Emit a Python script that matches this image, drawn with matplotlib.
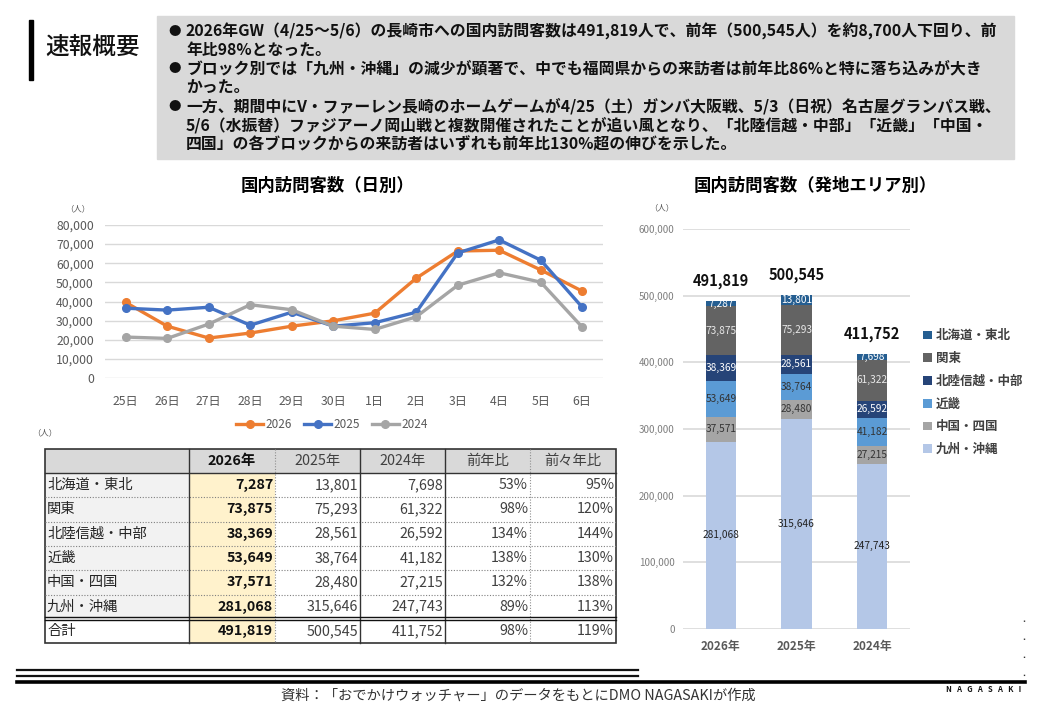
import numpy as np
import matplotlib
matplotlib.use('Agg')
import matplotlib.pyplot as plt
from matplotlib.patches import Rectangle

plt.rcParams['font.family'] = ['Noto Sans CJK JP', 'DejaVu Sans']

W, H = 1040, 720

# ---- data ----
days = ['25日', '26日', '27日', '28日', '29日', '30日', '1日', '2日', '3日', '4日', '5日', '6日']
visitors_2026 = [39500, 27100, 20900, 23500, 27100, 29900, 33900, 52200, 66400, 66800, 56500, 45400]
visitors_2025 = [36500, 35500, 37000, 27600, 34400, 27100, 28900, 34400, 65400, 72200, 61600, 37000]
visitors_2024 = [21400, 20700, 28200, 38300, 35700, 27100, 25400, 32000, 48500, 55000, 50100, 26600]

regions = ['北海道・東北', '関東', '北陸信越・中部', '近畿', '中国・四国', '九州・沖縄']
area_2026 = [7287, 73875, 38369, 53649, 37571, 281068]
area_2025 = [13801, 75293, 28561, 38764, 28480, 315646]
area_2024 = [7698, 61322, 26592, 41182, 27215, 247743]
ratio_prev = [53, 98, 134, 138, 132, 89]
ratio_prev2 = [95, 120, 144, 130, 138, 113]
ratio_total = [98, 119]

years = ['2026年', '2025年', '2024年']
area_colors = ['#255e91', '#636363', '#264478', '#5b9bd5', '#a5a5a5', '#b4c7e7']
label_colors = ['white', '#e8e8e8', 'white', '#333333', '#333333', '#222222']

summary_lines = [
    (True, '2026年GW（4/25～5/6）の長崎市への国内訪問客数は491,819人で、前年（500,545人）を約8,700人下回り、前'),
    (False, '年比98%となった。'),
    (True, 'ブロック別では「九州・沖縄」の減少が顕著で、中でも福岡県からの来訪者は前年比86%と特に落ち込みが大き'),
    (False, 'かった。'),
    (True, '一方、期間中にV・ファーレン長崎のホームゲームが4/25（土）ガンバ大阪戦、5/3（日祝）名古屋グランパス戦、'),
    (False, '5/6（水振替）ファジアーノ岡山戦と複数開催されたことが追い風となり、「北陸信越・中部」「近畿」「中国・'),
    (False, '四国」の各ブロックからの来訪者はいずれも前年比130%超の伸びを示した。'),
]


def box(l, t, r, b):
    return [l / W, 1 - b / H, (r - l) / W, (b - t) / H]


fig = plt.figure(figsize=(W / 100, H / 100), dpi=100)

# overlay in pixel coords
ax0 = fig.add_axes([0, 0, 1, 1])
ax0.set_xlim(0, W)
ax0.set_ylim(H, 0)
ax0.axis('off')

# header
ax0.add_patch(Rectangle((29, 20), 4, 60, color='black'))
ax0.text(45, 47, '速報概要', fontsize=17, fontweight='medium', va='center', ha='left', color='#111111')

ax0.add_patch(Rectangle((157, 16), 857, 143, color='#d9d9d9'))
for i, (bullet, line) in enumerate(summary_lines):
    y = 31 + i * 18.8
    if bullet:
        ax0.text(168, y, '●', fontsize=9, va='center', ha='left', color='#111111')
    ax0.text(186, y, line, fontsize=11.4, fontweight='bold', va='center', ha='left', color='#111111')

# ---- line chart ----
ax1 = fig.add_axes(box(105, 225, 603, 378))
x = np.arange(len(days))
ax1.plot(x, visitors_2026, color='#ed7d31', lw=2.4, marker='o', ms=5.5, label='2026')
ax1.plot(x, visitors_2025, color='#4472c4', lw=2.4, marker='o', ms=5.5, label='2025')
ax1.plot(x, visitors_2024, color='#a5a5a5', lw=2.4, marker='o', ms=5.5, label='2024')
ax1.set_xlim(-0.5, len(days) - 0.5)
ax1.set_ylim(0, 80000)
ax1.set_yticks(np.arange(0, 80001, 10000))
ax1.set_yticklabels([f'{v:,}' for v in range(0, 80001, 10000)])
ax1.set_xticks(x)
ax1.set_xticklabels(days)
ax1.grid(axis='y', color='#d9d9d9', lw=1)
ax1.set_axisbelow(True)
for s in ax1.spines.values():
    s.set_visible(False)
ax1.tick_params(length=0, labelsize=8.8, colors='#595959')
ax1.tick_params(axis='x', pad=12)
ax1.tick_params(axis='y', pad=8)
ax1.legend(loc='center', bbox_to_anchor=(332 / W, 1 - 425 / H), bbox_transform=fig.transFigure,
           ncol=3, frameon=False, fontsize=8.5, labelcolor='#595959', handlelength=2.3,
           columnspacing=1.0, handletextpad=0.2)
fig.text(328 / W, 1 - 186 / H, '国内訪問客数（日別）', fontsize=12.5, fontweight='bold', ha='center', va='center')
ax0.text(78, 209, '（人）', fontsize=6, color='#595959', ha='center', va='center')

# ---- table ----
ax0.text(45, 433, '（人）', fontsize=6, color='#595959', ha='center', va='center')
col_x = [45, 189, 275, 360, 445, 530, 616]
top = 449
head_h = 24
row_h = 24.3
n = len(regions)
rows_bottom = top + head_h + n * row_h
bottom = rows_bottom + 24.5

ax0.add_patch(Rectangle((col_x[0], top), col_x[-1] - col_x[0], head_h, color='#d9d9d9', lw=0))
ax0.add_patch(Rectangle((col_x[0], top + head_h), col_x[1] - col_x[0], n * row_h, color='#f2f2f2', lw=0))
ax0.add_patch(Rectangle((col_x[1], top + head_h), col_x[2] - col_x[1], bottom - top - head_h,
                        color='#fff2cc', lw=0))

headers = ['', '2026年', '2025年', '2024年', '前年比', '前々年比']
for j, h in enumerate(headers):
    if not h:
        continue
    cx = (col_x[j] + col_x[j + 1]) / 2
    ax0.text(cx, top + head_h / 2, h, fontsize=10.3, ha='center', va='center',
             fontweight='bold' if j == 1 else 'normal', color='#111111' if j == 1 else '#404040')

table_rows = []
for i in range(n):
    table_rows.append([regions[i], f'{area_2026[i]:,}', f'{area_2025[i]:,}', f'{area_2024[i]:,}',
                       f'{ratio_prev[i]}%', f'{ratio_prev2[i]}%'])
table_rows.append(['合計', f'{sum(area_2026):,}', f'{sum(area_2025):,}', f'{sum(area_2024):,}',
                   f'{ratio_total[0]}%', f'{ratio_total[1]}%'])

for i, row in enumerate(table_rows):
    if i < n:
        cy = top + head_h + (i + 0.5) * row_h
    else:
        cy = rows_bottom + 12.5
    for j, val in enumerate(row):
        if j == 0:
            ax0.text(col_x[0] + 2, cy, val, fontsize=10.3, ha='left', va='center', color='#262626')
        else:
            ax0.text(col_x[j + 1] - 2, cy, val, fontsize=10.3, ha='right', va='center',
                     fontweight='bold' if j == 1 else 'normal',
                     color='#111111' if j == 1 else '#404040')

# grid lines
for i in range(1, n):
    yy = top + head_h + i * row_h
    ax0.plot([col_x[0], col_x[-1]], [yy, yy], color='#808080', lw=0.8, ls=(0, (1, 1.5)))
for j in [2, 5]:
    ax0.plot([col_x[j], col_x[j]], [top, bottom], color='#909090', lw=0.8, ls=(0, (1, 1.5)))
for j in [1, 3, 4]:
    ax0.plot([col_x[j], col_x[j]], [top, bottom], color='#333333', lw=1)
ax0.plot([col_x[0], col_x[-1]], [top + head_h, top + head_h], color='#333333', lw=1)
ax0.plot([col_x[0], col_x[-1]], [rows_bottom - 1.5, rows_bottom - 1.5], color='#111111', lw=1)
ax0.plot([col_x[0], col_x[-1]], [rows_bottom + 1.5, rows_bottom + 1.5], color='#111111', lw=1)
ax0.add_patch(Rectangle((col_x[0], top), col_x[-1] - col_x[0], bottom - top, fill=False,
                        ec='#333333', lw=1.2))

# ---- stacked bar chart ----
ax2 = fig.add_axes(box(683, 229, 910, 629))
xb = np.arange(len(years))
stack = [[area_2026[k], area_2025[k], area_2024[k]] for k in range(n)]
base = np.zeros(len(years))
handles = []
for k in range(n - 1, -1, -1):
    vals = np.array(stack[k])
    bars = ax2.bar(xb, vals, width=0.4, bottom=base, color=area_colors[k], label=regions[k])
    ax2.bar_label(bars, labels=[f'{v:,}' for v in vals], label_type='center', fontsize=7.3,
                  color=label_colors[k])
    handles.append(bars)
    base = base + vals
for i, t in enumerate(base):
    ax2.text(xb[i], t + 30000, f'{int(t):,}', ha='center', va='center', fontsize=10.5, fontweight='bold',
             color='#111111')
ax2.set_xlim(-0.5, 2.5)
ax2.set_ylim(0, 600000)
ax2.set_yticks(np.arange(0, 600001, 100000))
ax2.set_yticklabels([f'{v:,}' for v in range(0, 600001, 100000)])
ax2.set_xticks(xb)
ax2.set_xticklabels(years, fontweight='bold')
ax2.grid(axis='y', color='#d9d9d9', lw=1.2)
ax2.set_axisbelow(True)
for s in ax2.spines.values():
    s.set_visible(False)
ax2.tick_params(axis='y', length=0, labelsize=7, colors='#7f7f7f', pad=6)
ax2.tick_params(axis='x', length=0, labelsize=8.5, colors='#595959', pad=8)
ax2.legend(handles[::-1], regions, loc='upper left', bbox_to_anchor=(912 / W, 1 - 318 / H),
           bbox_transform=fig.transFigure, frameon=False,
           prop={'weight': 'bold', 'size': 9}, labelcolor='#404040',
           handlelength=0.7, handleheight=0.7, handletextpad=0.3, labelspacing=0.78)
fig.text(815 / W, 1 - 186 / H, '国内訪問客数（発地エリア別）', fontsize=12.5, fontweight='bold',
         ha='center', va='center')
ax0.text(662, 208, '（人）', fontsize=6, color='#595959', ha='center', va='center')

# ---- footer ----
ax0.plot([17, 638], [670, 670], color='#111111', lw=1.6)
ax0.plot([17, 638], [675.5, 675.5], color='#111111', lw=1.6)
ax0.plot([17, 1025], [682, 682], color='#000000', lw=2.6)
ax0.plot([1024, 1024], [620, 676], color='#333333', lw=1, ls=(0, (1, 12)))
ax0.text(518, 696, '資料：「おでかけウォッチャー」のデータをもとにDMO NAGASAKIが作成', fontsize=10.3,
         ha='center', va='center', color='#333333')
ax0.text(984, 690, 'N   A   G   A   S   A   K   I', fontsize=5.5, fontweight='bold', ha='center', va='center',
         color='#111111')

fig.savefig('out.png', dpi=100)
